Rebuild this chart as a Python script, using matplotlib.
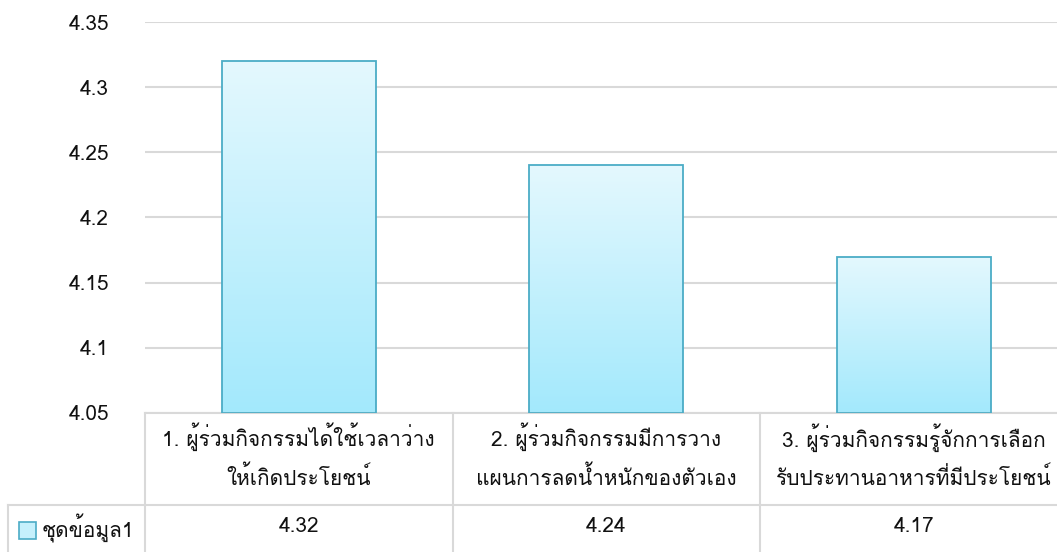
import numpy as np
import matplotlib
matplotlib.use("Agg")
import matplotlib.pyplot as plt
from matplotlib import font_manager
from matplotlib.ft2font import FT2Font
from matplotlib.patches import Rectangle
from matplotlib.colors import LinearSegmentedColormap

# pick an installed family that has Thai glyphs
thai_family = None
for fe in font_manager.fontManager.ttflist:
    try:
        if 0x0E01 in FT2Font(fe.fname).get_charmap():
            thai_family = fe.name
            break
    except Exception:
        pass
fams = ([thai_family] if thai_family else []) + ['DejaVu Sans']
plt.rcParams['font.family'] = fams

categories = ["1. ผู้ร่วมกิจกรรมได้ใช้เวลาว่าง\nให้เกิดประโยชน์",
              "2. ผู้ร่วมกิจกรรมมีการวาง\nแผนการลดน้ำหนักของตัวเอง",
              "3. ผู้ร่วมกิจกรรมรู้จักการเลือก\nรับประทานอาหารที่มีประโยชน์"]
values = [4.32, 4.24, 4.17]
value_labels = ["4.32", "4.24", "4.17"]
series_name = "ชุดข้อมูล1"
yticks = [4.05, 4.1, 4.15, 4.2, 4.25, 4.3, 4.35]
ytick_labels = ["4.05", "4.1", "4.15", "4.2", "4.25", "4.3", "4.35"]

W, H = 1057, 552
cat_w = 307.5
fig = plt.figure(figsize=(W / 100, H / 100), dpi=100)
ax = fig.add_axes([145 / W, (H - 413) / H, 3 * cat_w / W, (413 - 22) / H])

grad = LinearSegmentedColormap.from_list("g", ["#A3E9FC", "#E4F8FE"])
edge = "#4BACC6"
grid_c = "#D9D9D9"
txt_c = "#111111"
fs = 15

x = np.arange(len(categories))
bars = ax.bar(x, [v - 4.05 for v in values], bottom=4.05, width=0.5,
              facecolor="none", edgecolor=edge, linewidth=1.3, zorder=3)
g = np.linspace(0, 1, 256).reshape(-1, 1)
for b in bars:
    x0, y0 = b.get_x(), b.get_y()
    im = ax.imshow(g, cmap=grad, origin="lower", aspect="auto",
                   extent=[x0, x0 + b.get_width(), y0, y0 + b.get_height()],
                   zorder=2)
    im.set_clip_path(b)

ax.set_xlim(-0.5, len(categories) - 0.5)
ax.set_ylim(4.05, 4.35)
ax.set_yticks(yticks)
ax.set_yticklabels(ytick_labels, fontsize=fs, color=txt_c)
ax.tick_params(axis="y", length=0, pad=26)
ax.set_xticks([])
ax.yaxis.grid(True, color=grid_c, linewidth=1.5)
ax.set_axisbelow(True)
for s in ax.spines.values():
    s.set_visible(False)

# data table under the plot
tr = ax.get_xaxis_transform()
ph = 413 - 22
row1 = -(505 - 413) / ph
row2 = -(552 - 413) / ph
left = -0.5 - (145 - 8) / cat_w
lk = dict(color=grid_c, linewidth=1.5, transform=tr, clip_on=False)
ax.plot([-0.5, 2.5], [0, 0], **lk)
ax.plot([left, 2.5], [row1, row1], **lk)
ax.plot([left, left], [row1, row2], **lk)
for xs in [-0.5, 0.5, 1.5]:
    ax.plot([xs, xs], [0, row2], **lk)
for i, c in enumerate(categories):
    ax.text(i, -(456 - 413) / ph, c, transform=tr, ha="center", va="center",
            fontsize=fs, color=txt_c, linespacing=1.75)
    ax.text(i, -(527 - 413) / ph, value_labels[i], transform=tr,
            ha="center", va="center", fontsize=fs, color=txt_c)

# legend key in the row header
sw = Rectangle((19 / W, (H - 539) / H), 17 / W, 17 / H, transform=fig.transFigure,
               facecolor="#C5F0FC", edgecolor=edge, linewidth=1.2)
fig.patches.append(sw)
fig.text(42 / W, (H - 528) / H, series_name, ha="left", va="center",
         fontsize=fs, color=txt_c)

fig.savefig("out.png", dpi=100)
